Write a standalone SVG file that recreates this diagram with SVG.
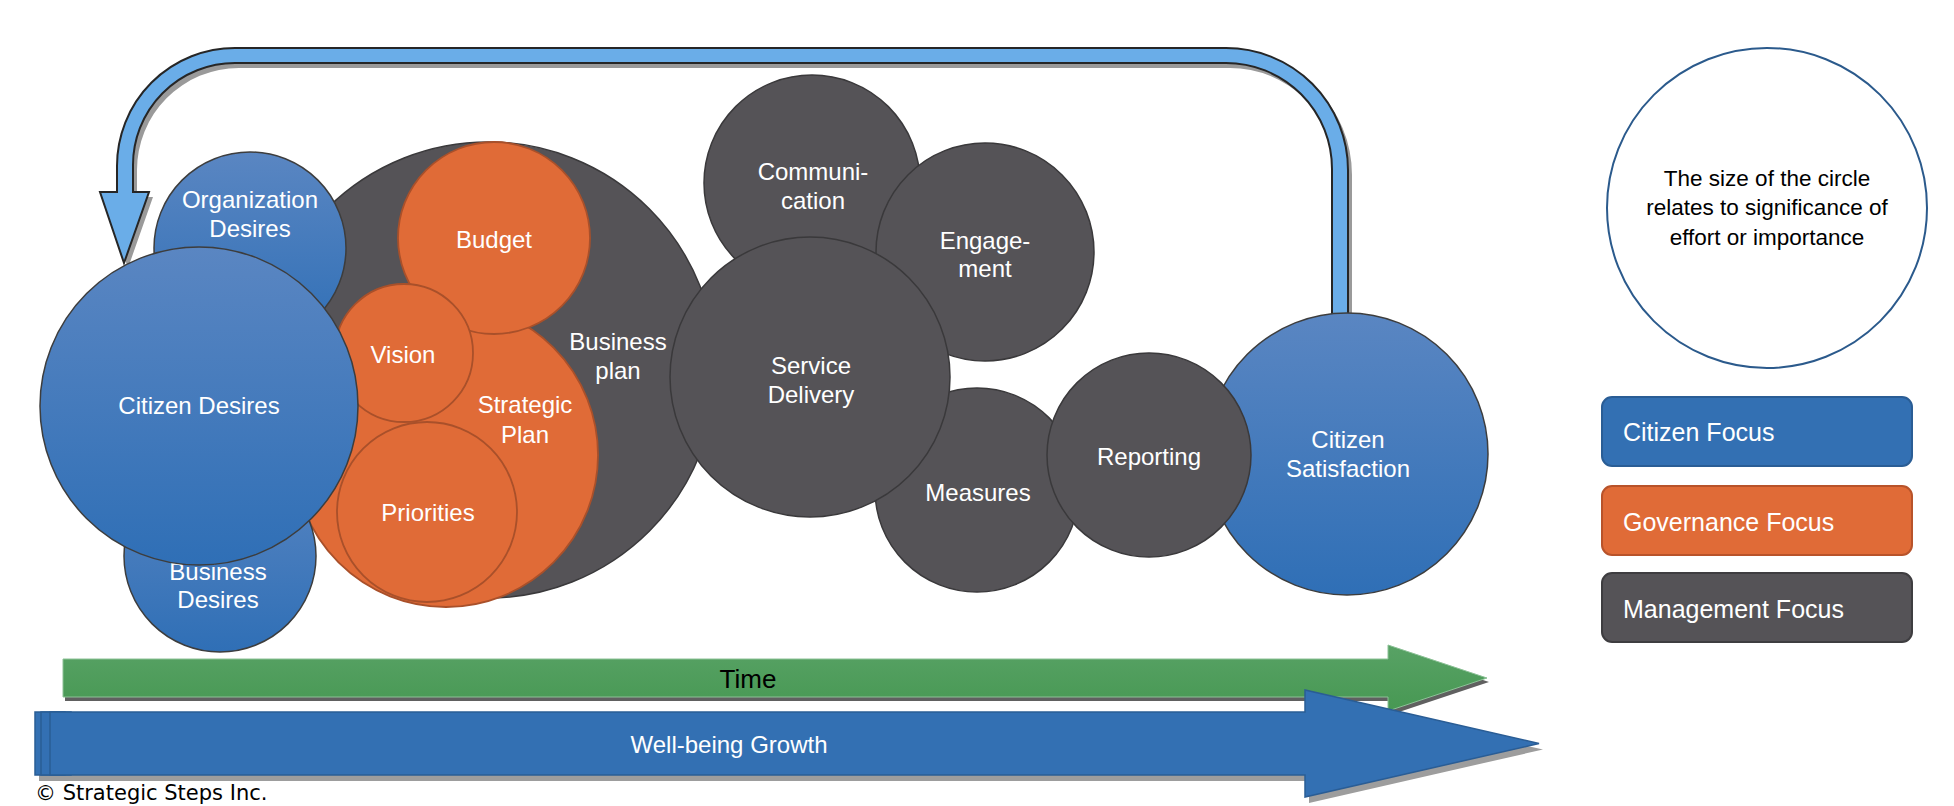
<svg xmlns="http://www.w3.org/2000/svg" width="1954" height="806" viewBox="0 0 1954 806">
<defs>
<linearGradient id="gBlue" x1="0" y1="0" x2="0" y2="1">
<stop offset="0" stop-color="#5a86c2"/>
<stop offset="1" stop-color="#2f6fb6"/>
</linearGradient>
<linearGradient id="gGreen" x1="0" y1="0" x2="0" y2="1">
<stop offset="0" stop-color="#58a265"/>
<stop offset="1" stop-color="#479853"/>
</linearGradient>
<style>
.blue{fill:url(#gBlue);stroke:#3d3d3d;stroke-width:1.5}
.dark{fill:#555357;stroke:#3a393b;stroke-width:1.5}
.orange{fill:#e06b37;stroke:#a9502a;stroke-width:1.8}
.lbl{font-family:"Liberation Sans",Arial,sans-serif;font-size:24px;fill:#ffffff;text-anchor:middle}
.leg{font-family:"Liberation Sans",Arial,sans-serif;font-size:25px;fill:#ffffff}
.blk{font-family:"Liberation Sans",Arial,sans-serif;fill:#000000}
</style>
</defs>
<rect width="1954" height="806" fill="#ffffff"/>

<g id="connectors">
<g id="feedback-arrow">
<path transform="translate(4,5)" fill="#9a9a9a" d="M1348,330 L1348,170 A122,122 0 0 0 1226,48 L235,48 A118,118 0 0 0 117,166 L117,192 L100,192 L124,263 L149,192 L133,192 L133,166 A102,102 0 0 1 235,63 L1226,63 A106,106 0 0 1 1332,169 L1332,330 Z"/>
<path fill="#6aade8" stroke="#262626" stroke-width="2" stroke-linejoin="miter" d="M1348,330 L1348,170 A122,122 0 0 0 1226,48 L235,48 A118,118 0 0 0 117,166 L117,192 L100,192 L124,263 L149,192 L133,192 L133,166 A102,102 0 0 1 235,63 L1226,63 A106,106 0 0 1 1332,169 L1332,330 Z"/>
</g>
<g id="time-arrow">
<polygon transform="translate(2,4)" fill="#606060" points="63,659 1388,659 1388,645 1487,678 1388,711 1388,697 63,697"/>
<polygon fill="url(#gGreen)" stroke="#8cc196" stroke-width="1" points="63,659 1388,659 1388,645 1487,678 1388,711 1388,697 63,697"/>
<text class="blk" x="748" y="688" font-size="26" text-anchor="middle">Time</text>
</g>
<g id="wellbeing-arrow">
<polygon transform="translate(4,6)" fill="#9d9d9d" points="35,712 1305,712 1305,690 1539,743.5 1305,797 1305,775 35,775"/>
<rect x="35" y="712" width="30" height="63" fill="#3370b3" stroke="#2a5d95" stroke-width="1.5"/>
<rect x="41" y="712" width="30" height="63" fill="#3370b3" stroke="#2a5d95" stroke-width="1.5"/>
<polygon fill="#3370b3" stroke="#2a5d95" stroke-width="1.5" points="50,712 1305,712 1305,690 1539,743.5 1305,797 1305,775 50,775"/>
<text class="lbl" x="729" y="753">Well-being Growth</text>
</g>
</g>

<g id="business-plan">
<circle class="dark" cx="488" cy="370" r="228"/>
<text class="lbl" x="618" y="350">Business</text>
<text class="lbl" x="618" y="379">plan</text>
</g>
<g id="strategic-plan">
<circle class="orange" cx="446" cy="455" r="152"/>
<text class="lbl" x="525" y="413">Strategic</text>
<text class="lbl" x="525" y="443">Plan</text>
</g>
<g id="budget">
<circle class="orange" cx="494" cy="238" r="96"/>
<text class="lbl" x="494" y="248">Budget</text>
</g>
<g id="vision">
<circle class="orange" cx="404" cy="353" r="69"/>
<text class="lbl" x="403" y="363">Vision</text>
</g>
<g id="priorities">
<circle class="orange" cx="427" cy="512" r="90"/>
<text class="lbl" x="428" y="521">Priorities</text>
</g>
<g id="organization-desires">
<circle class="blue" cx="250" cy="248" r="96"/>
<text class="lbl" x="250" y="208">Organization</text>
<text class="lbl" x="250" y="237">Desires</text>
</g>
<g id="business-desires">
<circle class="blue" cx="220" cy="556" r="96"/>
<text class="lbl" x="218" y="580">Business</text>
<text class="lbl" x="218" y="608">Desires</text>
</g>
<g id="citizen-desires">
<circle class="blue" cx="199" cy="406" r="159"/>
<text class="lbl" x="199" y="414">Citizen Desires</text>
</g>

<g id="communication">
<circle class="dark" cx="812" cy="183" r="108"/>
<text class="lbl" x="813" y="180">Communi-</text>
<text class="lbl" x="813" y="209">cation</text>
</g>
<g id="engagement">
<circle class="dark" cx="985" cy="252" r="109"/>
<text class="lbl" x="985" y="249">Engage-</text>
<text class="lbl" x="985" y="277">ment</text>
</g>
<g id="measures">
<circle class="dark" cx="977" cy="490" r="102"/>
<text class="lbl" x="978" y="501">Measures</text>
</g>
<g id="service-delivery">
<circle class="dark" cx="810" cy="377" r="140"/>
<text class="lbl" x="811" y="374">Service</text>
<text class="lbl" x="811" y="403">Delivery</text>
</g>
<g id="citizen-satisfaction">
<circle class="blue" cx="1347" cy="454" r="141"/>
<text class="lbl" x="1348" y="448">Citizen</text>
<text class="lbl" x="1348" y="477">Satisfaction</text>
</g>
<g id="reporting">
<circle class="dark" cx="1149" cy="455" r="102"/>
<text class="lbl" x="1149" y="465">Reporting</text>
</g>

<g id="legend-size">
<circle cx="1767" cy="208" r="160" fill="#ffffff" stroke="#2b5a8c" stroke-width="2"/>
<text class="blk" font-size="22.5" text-anchor="middle" x="1767" y="186">The size of the circle</text>
<text class="blk" font-size="22.5" text-anchor="middle" x="1767" y="215">relates to significance of</text>
<text class="blk" font-size="22.5" text-anchor="middle" x="1767" y="245">effort or importance</text>
</g>
<g id="legend-citizen">
<rect x="1602" y="397" width="310" height="69" rx="10" fill="#3370b3" stroke="#2a5d95" stroke-width="2"/>
<text class="leg" x="1623" y="441">Citizen Focus</text>
</g>
<g id="legend-governance">
<rect x="1602" y="486" width="310" height="69" rx="10" fill="#e06b37" stroke="#b8532a" stroke-width="2"/>
<text class="leg" x="1623" y="531">Governance Focus</text>
</g>
<g id="legend-management">
<rect x="1602" y="573" width="310" height="69" rx="10" fill="#555357" stroke="#3e3d40" stroke-width="2"/>
<text class="leg" x="1623" y="618">Management Focus</text>
</g>

<text x="35" y="800" font-family="'DejaVu Sans',Verdana,sans-serif" font-size="21" fill="#000000">© Strategic Steps Inc.</text>
</svg>
